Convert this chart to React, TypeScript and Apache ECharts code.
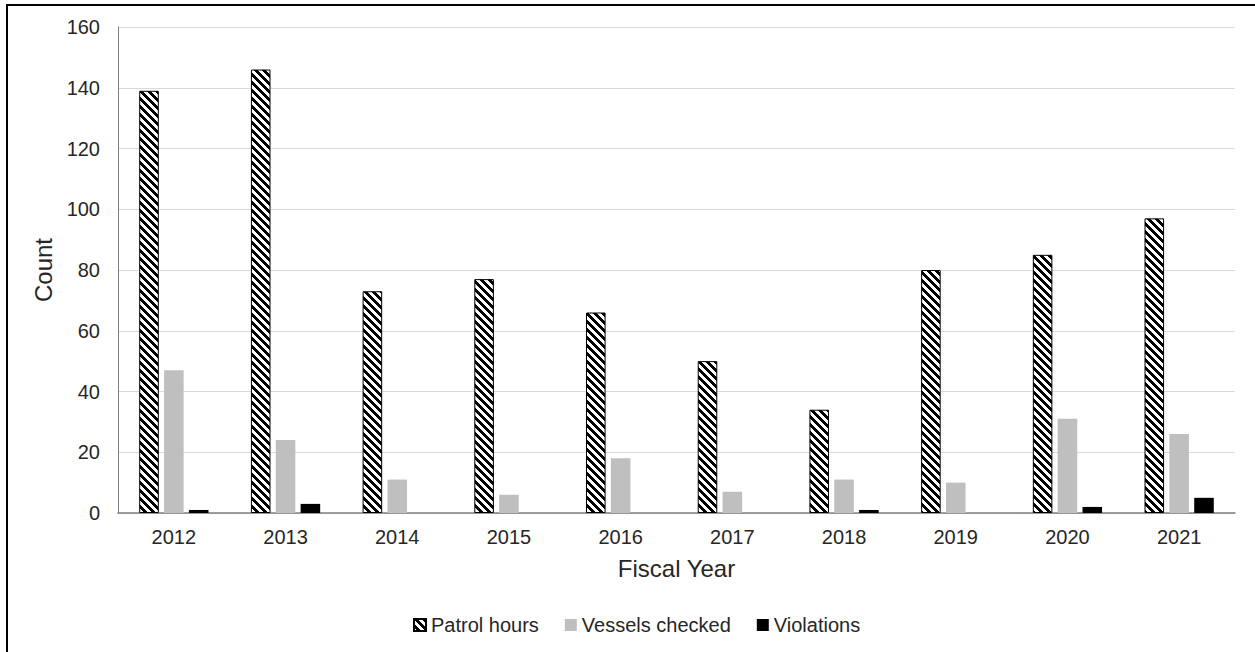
import React, { useEffect, useRef } from "react";
import * as echarts from "echarts";

const categories = ["2012", "2013", "2014", "2015", "2016", "2017", "2018", "2019", "2020", "2021"];
const patrolHours = [139, 146, 73, 77, 66, 50, 34, 80, 85, 97];
const vesselsChecked = [47, 24, 11, 6, 18, 7, 11, 10, 31, 26];
const violations = [1, 3, 0, 0, 0, 0, 1, 0, 2, 5];

function makeStripeCanvas(): HTMLCanvasElement {
  const size = 8;
  const c = document.createElement("canvas");
  c.width = size;
  c.height = size;
  const ctx = c.getContext("2d")!;
  const img = ctx.createImageData(size, size);
  for (let y = 0; y < size; y++) {
    for (let x = 0; x < size; x++) {
      const d = (((x - y) % size) + size) % size;
      const black = d < 4;
      const i = (y * size + x) * 4;
      const v = black ? 0 : 255;
      img.data[i] = v;
      img.data[i + 1] = v;
      img.data[i + 2] = v;
      img.data[i + 3] = 255;
    }
  }
  ctx.putImageData(img, 0, 0);
  return c;
}

export default function App() {
  const ref = useRef<HTMLDivElement>(null);
  useEffect(() => {
    if (!ref.current) return;
    const chart = echarts.init(ref.current, null, { renderer: "svg" });
    const stripe = makeStripeCanvas();
    const pattern: any = { image: stripe, repeat: "repeat" };
    const font = "'Liberation Sans', Arial, sans-serif";
    chart.setOption({
      animation: false,
      textStyle: { fontFamily: font },
      grid: { left: 118, right: 20, top: 27, bottom: 139, containLabel: false },
      legend: {
        top: 615,
        left: 413,
        padding: 0,
        itemWidth: 12,
        itemHeight: 12,
        itemGap: 26,
        icon: "rect",
        textStyle: { fontSize: 20, color: "#262626", fontFamily: font },
        data: ["Patrol hours", "Vessels checked", "Violations"],
      },
      xAxis: {
        type: "category",
        data: categories,
        name: "Fiscal Year",
        nameLocation: "middle",
        nameGap: 43,
        nameTextStyle: { fontSize: 24, color: "#262626", fontFamily: font },
        axisLine: { show: true, lineStyle: { color: "#7f7f7f", width: 1.5 } },
        axisTick: { show: false },
        axisLabel: { fontSize: 20, color: "#262626", margin: 14, fontFamily: font },
      },
      yAxis: {
        type: "value",
        min: 0,
        max: 160,
        interval: 20,
        name: "Count",
        nameLocation: "middle",
        nameGap: 61,
        nameTextStyle: { fontSize: 24, color: "#262626", fontFamily: font },
        axisLine: { show: true, lineStyle: { color: "#7f7f7f", width: 1 } },
        axisTick: { show: false },
        axisLabel: { fontSize: 20, color: "#262626", margin: 18, fontFamily: font },
        splitLine: { show: true, lineStyle: { color: "#d9d9d9", width: 1 } },
      },
      series: [
        {
          name: "Patrol hours",
          type: "bar",
          data: patrolHours,
          barGap: "27%",
          barCategoryGap: "38%",
          itemStyle: { color: pattern, borderColor: "#000", borderWidth: 1 },
        },
        {
          name: "Vessels checked",
          type: "bar",
          data: vesselsChecked,
          itemStyle: { color: "#bfbfbf" },
        },
        {
          name: "Violations",
          type: "bar",
          data: violations,
          itemStyle: { color: "#000000" },
        },
      ],
    });
    return () => chart.dispose();
  }, []);
  return (
    <div style={{ position: "fixed", left: 0, top: 0, width: 1255, height: 652, background: "#fff", overflow: "hidden" }}>
      <div ref={ref} style={{ position: "absolute", left: 0, top: 0, width: 1255, height: 652 }} />
      <div
        style={{
          position: "absolute",
          left: 6,
          top: 4,
          width: 1300,
          height: 700,
          border: "2px solid #000",
          pointerEvents: "none",
        }}
      />
    </div>
  );
}
